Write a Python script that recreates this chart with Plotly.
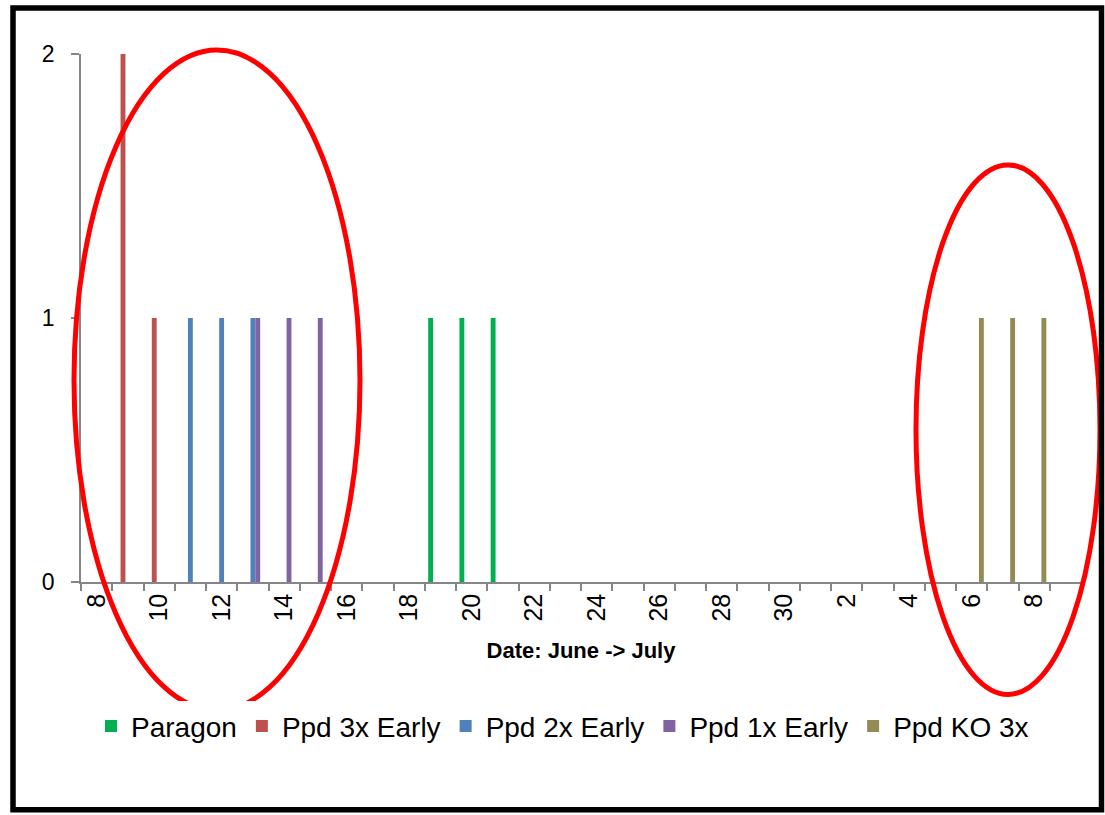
import plotly.graph_objects as go

# Daily categories, 8 June through 9 July
dates = [f"Jun {d}" for d in range(8, 31)] + [f"Jul {d}" for d in range(1, 10)]
day_labels = [d.split()[1] for d in dates]
tick_text = [lbl if i % 2 == 0 else "" for i, lbl in enumerate(day_labels)]

series_names = ["Paragon", "Ppd 3x Early", "Ppd 2x Early", "Ppd 1x Early", "Ppd KO 3x"]
series_colors = ["#00B050", "#C0504D", "#4F81BD", "#8064A2", "#948A54"]

paragon_dates = ["Jun 19", "Jun 20", "Jun 21"]
paragon_vals = [1, 1, 1]
ppd3x_dates = ["Jun 9", "Jun 10"]
ppd3x_vals = [2, 1]
ppd2x_dates = ["Jun 11", "Jun 12", "Jun 13"]
ppd2x_vals = [1, 1, 1]
ppd1x_dates = ["Jun 13", "Jun 14", "Jun 15"]
ppd1x_vals = [1, 1, 1]
ko3x_dates = ["Jul 6", "Jul 7", "Jul 8"]
ko3x_vals = [1, 1, 1]

series_x = [paragon_dates, ppd3x_dates, ppd2x_dates, ppd1x_dates, ko3x_dates]
series_y = [paragon_vals, ppd3x_vals, ppd2x_vals, ppd1x_vals, ko3x_vals]

W, H = 1105, 815
L, R, T, B = 81, 24, 54, 232.5
PW, PH = W - L - R, H - T - B


def px_x(p):
    return (p - L) / PW


def px_y(p):
    return (H - B - p) / PH


fig = go.Figure()
for name, color, xs, ys in zip(series_names, series_colors, series_x, series_y):
    fig.add_trace(go.Bar(x=xs, y=ys, name=name, marker=dict(color=color, line=dict(width=0))))

font = "Liberation Sans, Arial, sans-serif"
axis_grey = "#868686"

fig.update_layout(
    width=W, height=H,
    margin=dict(l=L, r=R, t=T, b=B, pad=0),
    paper_bgcolor="white", plot_bgcolor="white",
    barmode="group", bargap=0.22, bargroupgap=0,
    font=dict(family=font, color="black"),
    showlegend=True,
    legend=dict(
        orientation="h", x=px_x(91), xanchor="left", y=px_y(727), yanchor="middle",
        font=dict(size=28, family=font, color="black"),
        itemwidth=30, traceorder="normal",
    ),
    xaxis=dict(
        type="category", categoryorder="array", categoryarray=dates,
        range=[-0.5, len(dates) - 0.5],
        tickmode="array", tickvals=dates, ticktext=tick_text,
        tickson="boundaries", ticks="outside", ticklen=7, tickcolor=axis_grey, tickwidth=1.5,
        tickangle=-90, tickfont=dict(size=25, family=font, color="black"),
        showline=True, linecolor=axis_grey, linewidth=1.5,
        showgrid=False, zeroline=False,
        title=dict(text="<b>Date: June -> July</b>", font=dict(size=22, family=font, color="black"), standoff=22),
    ),
    yaxis=dict(
        range=[0, 2], tickmode="array", tickvals=[0, 1, 2],
        ticks="outside", ticklen=8, tickcolor=axis_grey, tickwidth=1.5,
        tickfont=dict(size=23, family=font, color="black"),
        showline=True, linecolor=axis_grey, linewidth=1.5,
        showgrid=False, zeroline=False, ticklabelstandoff=12,
    ),
)

# Red ellipses highlighting the two clusters
fig.add_shape(type="circle", xref="paper", yref="paper",
              x0=px_x(74), x1=px_x(360), y0=px_y(711), y1=px_y(50),
              line=dict(color="#FF0000", width=5))
fig.add_shape(type="circle", xref="paper", yref="paper",
              x0=px_x(916), x1=px_x(1100), y0=px_y(695), y1=px_y(165),
              line=dict(color="#FF0000", width=5))

# Black frame around the whole chart
fig.add_shape(type="rect", xref="paper", yref="paper",
              x0=px_x(13), x1=px_x(1101.5), y0=px_y(810.5), y1=px_y(8),
              line=dict(color="black", width=5.5))

fig.write_html("out.html")
